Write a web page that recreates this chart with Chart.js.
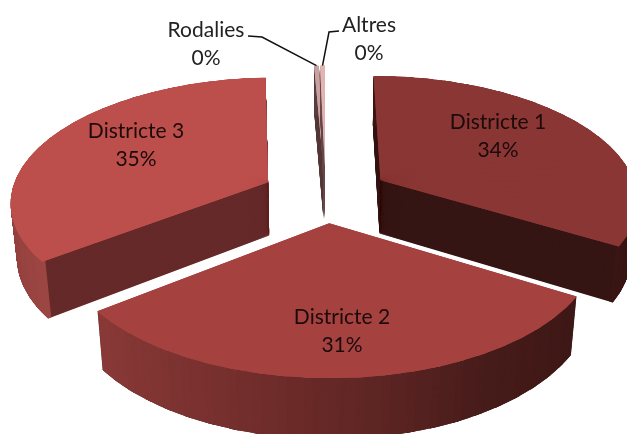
<!DOCTYPE html>
<html>
<head>
<meta charset="utf-8">
<style>html,body{margin:0;padding:0;background:#fff}canvas{display:block}</style>
<script src="https://cdn.jsdelivr.net/npm/chart.js@4"></script>
</head>
<body>
<canvas id="c" width="627" height="434"></canvas>
<script>
// ---- data ----
const categories = ['Districte 1', 'Districte 2', 'Districte 3', 'Rodalies', 'Altres'];
const shares = [33.6, 31.0, 34.7, 0.35, 0.35];

// ---- styles ----
const topColors = ['#893634', '#a54240', '#bc4f4c', '#c8a2a2', '#e2b4b4'];
const sideColors = ['#361614', '#3f1917', '#662a2a', '#55393a', '#6a4a4a'];
// outer-wall shade along the rim: [degrees clockwise from top, r, g, b]
const rimStops = [
  [[0, 58, 23, 21], [130, 58, 23, 21]],
  [[120, 62, 25, 23], [150, 72, 29, 27], [178, 100, 40, 38], [205, 122, 50, 48], [235, 140, 60, 58]],
  [[230, 158, 72, 69], [260, 146, 66, 64], [300, 130, 60, 58]],
  [[0, 90, 60, 60], [360, 90, 60, 60]],
  [[0, 110, 75, 75], [360, 110, 75, 75]]
];
const drawOrder = [0, 2, 3, 4, 1];

// ---- camera of the exploded 3D pie ----
const cam = {cx: 325.5, cy: 194, A: 257, K: 123, H: 55, p: 0.145, q: 0.02, explodeX: 0.25, explodeY: 0.23};
function proj(X, Y, z) {
  const w = 1 - cam.p * Y + cam.q * z;
  return [cam.cx + cam.A * X / w, cam.cy + (cam.K * Y + cam.H * z) / w];
}

// ---- text layout ----
const labelPos = [[498, 122], [342, 317], [136, 131], [206, 30], [369, 25]];
const lineGap = 28;
const leaderStarts = [null, null, null, [[248, 36], [262, 37]], [[339, 31], [329, 32]]];

function drawWedge(ctx, el, s, e, inner, color, ex, ey, z) {
  const R = el.outerRadius;
  const c1 = Math.cos(s), s1 = Math.sin(s), c2 = Math.cos(e), s2 = Math.sin(e);
  const o = proj(ex, ey, z), q1 = proj(ex + c1, ey + s1, z), q2 = proj(ex + c2, ey + s2, z);
  const det = c1 * s2 - c2 * s1;
  const ax = q1[0] - o[0], ay = q1[1] - o[1], bx = q2[0] - o[0], by = q2[1] - o[1];
  const m00 = (ax * s2 - bx * s1) / det, m01 = (bx * c1 - ax * c2) / det;
  const m10 = (ay * s2 - by * s1) / det, m11 = (by * c1 - ay * c2) / det;
  const a = m00 / R, b = m10 / R, c = m01 / R, d = m11 / R;
  ctx.save();
  ctx.setTransform(a, b, c, d, o[0] - a * el.x - c * el.y, o[1] - b * el.x - d * el.y);
  el.startAngle = s; el.endAngle = e; el.circumference = e - s; el.innerRadius = inner * R;
  el.options = Object.assign({}, el.$base, {backgroundColor: color, borderWidth: 0});
  el.draw(ctx);
  ctx.restore();
}

function pieces(start, end) {
  const n = Math.max(1, Math.ceil((end - start) / (Math.PI / 36)));
  const out = [], step = (end - start) / n, lap = 0.015;
  for (let i = 0; i < n; i++) {
    out.push([Math.max(start, start + i * step - lap), Math.min(end, start + (i + 1) * step + lap)]);
  }
  return out;
}

function rimColor(stops, deg) {
  if (deg <= stops[0][0]) return 'rgb(' + stops[0].slice(1).join(',') + ')';
  for (let i = 1; i < stops.length; i++) {
    if (deg <= stops[i][0]) {
      const t = (deg - stops[i - 1][0]) / (stops[i][0] - stops[i - 1][0]);
      const v = [1, 2, 3].map(k => Math.round(stops[i - 1][k] + t * (stops[i][k] - stops[i - 1][k])));
      return 'rgb(' + v.join(',') + ')';
    }
  }
  return 'rgb(' + stops[stops.length - 1].slice(1).join(',') + ')';
}

const pie3d = {
  id: 'pie3d',
  beforeDatasetDraw() { return false; },
  afterDatasetsDraw(chart) {
    const ctx = chart.ctx, meta = chart.getDatasetMeta(0);
    const total = shares.reduce((a, b) => a + b, 0);
    const geo = meta.data.map(el => ({start: el.startAngle, end: el.endAngle}));
    meta.data.forEach(el => { el.$base = Object.assign({}, el.options); });
    const zStep = 0.7 / cam.H;
    drawOrder.forEach(i => {
      const el = meta.data[i], g = geo[i], mid = (g.start + g.end) / 2;
      const ex = cam.explodeX * Math.cos(mid), ey = cam.explodeY * Math.sin(mid);
      const subs = pieces(g.start, g.end);
      for (let z = 1; z > 0; z -= zStep) {
        subs.forEach(p => drawWedge(ctx, el, p[0], p[1], 0, sideColors[i], ex, ey, z));
      }
      for (let z = 1; z > 0; z -= zStep) {
        subs.forEach(p => {
          const deg = ((p[0] + p[1]) / 2 * 180 / Math.PI + 90 + 360) % 360;
          drawWedge(ctx, el, p[0], p[1], 0.985, rimColor(rimStops[i], deg), ex, ey, z);
        });
      }
      for (let pass = 0; pass < 2; pass++) {
        subs.forEach(p => drawWedge(ctx, el, p[0], p[1], 0, topColors[i], ex, ey, 0));
      }
    });
    // leaders
    ctx.save();
    ctx.strokeStyle = '#111'; ctx.lineWidth = 1.5;
    leaderStarts.forEach((pts, i) => {
      if (!pts) return;
      const g = geo[i], mid = (g.start + g.end) / 2;
      const ex = cam.explodeX * Math.cos(mid), ey = cam.explodeY * Math.sin(mid);
      const t = proj(ex + Math.cos(mid), ey + Math.sin(mid), 0);
      ctx.beginPath();
      ctx.moveTo(pts[0][0], pts[0][1]);
      ctx.lineTo(pts[1][0], pts[1][1]);
      ctx.lineTo(t[0], t[1]);
      ctx.stroke();
    });
    // labels
    ctx.font = '21px Lato, "Open Sans", sans-serif';
    ctx.textAlign = 'center'; ctx.textBaseline = 'middle';
    categories.forEach((name, i) => {
      ctx.fillStyle = i < 3 ? '#1c0a0a' : '#222';
      ctx.fillText(name, labelPos[i][0], labelPos[i][1]);
      ctx.fillText(Math.round(shares[i] / total * 100) + '%', labelPos[i][0], labelPos[i][1] + lineGap);
    });
    ctx.restore();
    meta.data.forEach((el, i) => {
      el.startAngle = geo[i].start; el.endAngle = geo[i].end;
      el.circumference = geo[i].end - geo[i].start; el.innerRadius = 0; el.options = el.$base;
    });
  }
};

new Chart(document.getElementById('c'), {
  type: 'pie',
  data: {labels: categories, datasets: [{data: shares, backgroundColor: topColors, borderWidth: 0}]},
  options: {
    responsive: false, animation: false,
    plugins: {legend: {display: false}, tooltip: {enabled: false}}
  },
  plugins: [pie3d]
});
</script>
</body>
</html>
